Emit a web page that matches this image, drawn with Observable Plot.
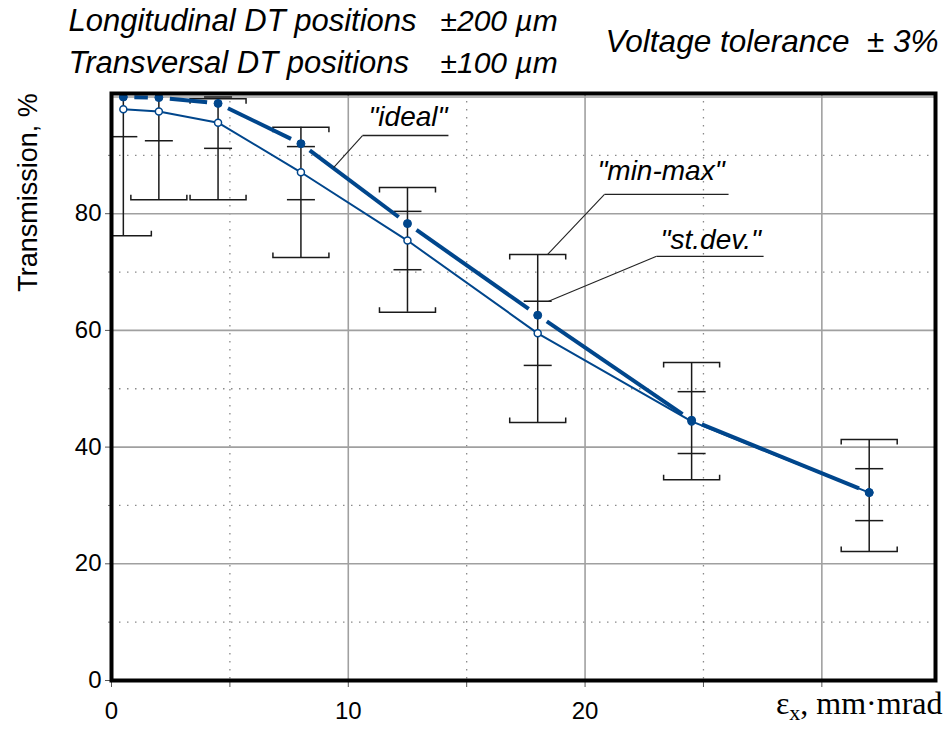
<!DOCTYPE html>
<html><head><meta charset="utf-8">
<script src="https://cdn.jsdelivr.net/npm/d3@7"></script>
<script src="https://cdn.jsdelivr.net/npm/@observablehq/plot@0.6"></script>
<style>
body{margin:0;background:#fff;}
#chart svg{display:block;}
</style></head><body>
<div id="chart"></div>
<script>
// ---- data ----
const emittance = [0.5, 2, 4.5, 8, 12.5, 18, 24.5, 32];      // εx, mm·mrad
const ideal     = [100, 99.9, 98.9, 92.0, 78.3, 62.6, 44.6, 32.2];
const meanT     = [97.9, 97.5, 95.6, 87.1, 75.4, 59.5, 44.4, 32.2];
const minT      = [76.2, 82.4, 82.4, 72.5, 63.1, 44.2, 34.4, 22.1];
const maxT      = [103, 103, 99.7, 94.8, 84.5, 73.0, 54.5, 41.3];
const sdLow     = [93.2, 92.5, 91.2, 82.4, 70.4, 54.0, 38.9, 27.4];
const sdHigh    = [102.6, 102.5, 100.0, 91.5, 80.4, 65.0, 49.5, 36.3];

const yTicks = [0, 20, 40, 60, 80];
const xTicks = [0, 10, 20];

// annotations (data coordinates)
const annText  = ['"ideal"', '"min-max"', '"st.dev."'];
const annTx    = [10.85, 20.52, 23.19];
const annTy    = [95.1, 85.7, 74.0];
const annU1    = [10.6, 20.82, 23.02];
const annU2    = [14.23, 26.06, 27.54];
const annUy    = [93.4, 83.3, 72.7];
const annPx    = [9.38, 18.41, 18.46];
const annPy    = [87.9, 73.0, 65.0];

const rows = emittance.map((x, i) => ({x, ideal: ideal[i], mean: meanT[i], min: minT[i], max: maxT[i], lo: sdLow[i], hi: sdHigh[i]}));
const segs = d3.pairs(rows);
const ann = annText.map((t, i) => ({t, tx: annTx[i], ty: annTy[i], u1: annU1[i], u2: annU2[i], uy: annUy[i], px: annPx[i], py: annPy[i]}));

const blue = "#00468c";
const sans = "'Liberation Sans', Arial, sans-serif";

const capTop = {draw(c){ c.moveTo(-28, 5); c.lineTo(-28, 0); c.lineTo(28, 0); c.lineTo(28, 5); }};
const capBot = {draw(c){ c.moveTo(-28, -5); c.lineTo(-28, 0); c.lineTo(28, 0); c.lineTo(28, -5); }};
const shortTick = {draw(c){ c.moveTo(-14, 0); c.lineTo(14, 0); }};

const plot = Plot.plot({
  width: 945, height: 731,
  marginLeft: 111, marginRight: 10, marginTop: 93, marginBottom: 51,
  style: {fontFamily: sans, background: "#fff", color: "#000"},
  x: {domain: [0, 34.8]},
  y: {domain: [0, 100.6]},
  marks: [
    // grid
    Plot.ruleY([10, 30, 50, 70, 90], {stroke: "#8a8a8a", strokeWidth: 1.3, strokeDasharray: "1.5,6.5"}),
    Plot.ruleX([5, 15, 25], {stroke: "#8a8a8a", strokeWidth: 1.3, strokeDasharray: "1.5,6.5"}),
    Plot.ruleY([20, 40, 60, 80, 100], {stroke: "#a0a0a0", strokeWidth: 1.6}),
    Plot.ruleX([10, 20, 30], {stroke: "#a0a0a0", strokeWidth: 1.6}),
    // axes
    Plot.axisY({ticks: yTicks, tickSize: 6, tickPadding: 4, fontSize: 24, label: null, stroke: "#555"}),
    Plot.axisY({ticks: [10, 30, 50, 70, 90], tickSize: 3, tickFormat: () => "", label: null, stroke: "#777"}),
    Plot.axisX({ticks: xTicks, tickSize: 7, tickPadding: 14, fontSize: 24, label: null, stroke: "#555"}),
    Plot.axisX({ticks: [5, 15, 25, 30], tickSize: 7, tickFormat: () => "", label: null, stroke: "#555"}),
    // error bars (min-max and st.dev.)
    Plot.ruleX(rows, {x: "x", y1: "min", y2: "max", stroke: "#1a1a1a", strokeWidth: 1.5, clip: true}),
    Plot.dot(rows, {x: "x", y: "max", symbol: capTop, r: 5, fill: "none", stroke: "#1a1a1a", strokeWidth: 1.5, clip: true}),
    Plot.dot(rows, {x: "x", y: "min", symbol: capBot, r: 5, fill: "none", stroke: "#1a1a1a", strokeWidth: 1.5, clip: true}),
    Plot.dot(rows, {x: "x", y: "lo", symbol: shortTick, r: 5, fill: "none", stroke: "#1a1a1a", strokeWidth: 1.5, clip: true}),
    Plot.dot(rows, {x: "x", y: "hi", symbol: shortTick, r: 5, fill: "none", stroke: "#1a1a1a", strokeWidth: 1.5, clip: true}),
    // mean line with open circles
    Plot.line(rows, {x: "x", y: "mean", stroke: blue, strokeWidth: 2}),
    Plot.dot(rows, {x: "x", y: "mean", r: 3.5, fill: "#fff", stroke: blue, strokeWidth: 1.5}),
    // ideal: thick line broken around the markers
    Plot.arrow(segs, {x1: d => d[0].x, y1: d => d[0].ideal, x2: d => d[1].x, y2: d => d[1].ideal,
      headLength: 0, bend: 0, inset: 11, stroke: blue, strokeWidth: 4, strokeLinecap: "butt"}),
    Plot.dot(rows, {x: "x", y: "ideal", r: 4, fill: blue, stroke: blue, strokeWidth: 1}),
    // annotations
    Plot.link(ann, {x1: "u1", y1: "uy", x2: "u2", y2: "uy", stroke: "#222", strokeWidth: 1.3}),
    Plot.link(ann, {x1: "u1", y1: "uy", x2: "px", y2: "py", stroke: "#222", strokeWidth: 1.1}),
    Plot.text(ann, {x: "tx", y: "ty", text: "t", textAnchor: "start", lineAnchor: "bottom", fontSize: 28, fontStyle: "italic", fill: "#000"}),
    // frame
    Plot.frame({stroke: "#000", strokeWidth: 4}),
    // header texts
    Plot.text(["Longitudinal DT positions"], {frameAnchor: "top-left", dx: -43, dy: -63, textAnchor: "start", lineAnchor: "bottom", fontSize: 31, fontStyle: "italic", fill: "#000"}),
    Plot.text(["±200 µm"], {frameAnchor: "top-left", dx: 329, dy: -63, textAnchor: "start", lineAnchor: "bottom", fontSize: 30, fontStyle: "italic", fill: "#000"}),
    Plot.text(["Transversal DT positions"], {frameAnchor: "top-left", dx: -43, dy: -21, textAnchor: "start", lineAnchor: "bottom", fontSize: 31, fontStyle: "italic", fill: "#000"}),
    Plot.text(["±100 µm"], {frameAnchor: "top-left", dx: 329, dy: -21, textAnchor: "start", lineAnchor: "bottom", fontSize: 30, fontStyle: "italic", fill: "#000"}),
    Plot.text(["Voltage tolerance  ± 3%"], {frameAnchor: "top-left", dx: 494, dy: -42, textAnchor: "start", lineAnchor: "bottom", fontSize: 31.5, fontStyle: "italic", fill: "#000"}),
    // axis titles
    Plot.text(["Transmission, %"], {frameAnchor: "top-left", dx: -75, dy: 99, rotate: -90, textAnchor: "middle", lineAnchor: "bottom", fontSize: 27, fill: "#000"}),
    Plot.text(["εx, mm·mrad"], {frameAnchor: "bottom-right", dx: 7, dy: 33, textAnchor: "end", lineAnchor: "bottom", fontSize: 32, fontFamily: "'Liberation Serif', 'Times New Roman', serif", fill: "#000", className: "xlab"})
  ]
});
document.getElementById("chart").append(plot);

// subscript x in the axis title
d3.select(plot).selectAll(".xlab text").each(function() {
  const t = d3.select(this);
  t.text(null);
  t.append("tspan").text("ε");
  t.append("tspan").attr("dy", 6).attr("font-size", 22).text("x");
  t.append("tspan").attr("dy", -6).text(", mm·mrad");
});
</script>
</body></html>
